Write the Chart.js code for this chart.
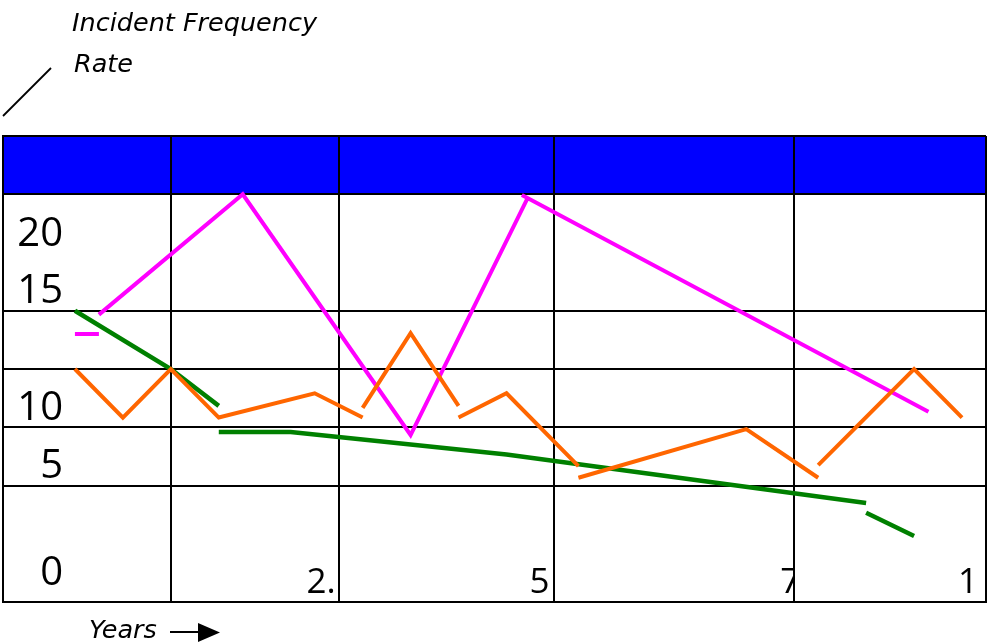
<!DOCTYPE html>
<html>
<head>
<meta charset="utf-8">
<script src="https://cdn.jsdelivr.net/npm/chart.js@4/dist/chart.umd.min.js"></script>
<style>
  html, body { margin: 0; padding: 0; background: #fff; }
</style>
</head>
<body>
<canvas id="chart" width="987" height="644"></canvas>
<script>
// Years on x, incident frequency rate on y. A null y breaks the line.
const orangeX = [0, 0.5, 1, 1.5, 2.5, 3, 3, 3, 3.5, 4, 4, 4, 4.5, 5.25, 5.25, 5.25, 7, 7.75, 7.75, 7.75, 8.75, 9.25];
const orangeY = [12, 9.5, 12, 9.5, 10.75, 9.5, null, 10, 13.85, 10.1, null, 9.5, 10.75, 7, null, 6.4, 8.9, 6.4, null, 7.05, 12, 9.5];

const greenX = [0, 1, 1.5, 1.5, 1.5, 2.25, 4.5, 8.25, 8.25, 8.25, 8.75];
const greenY = [15, 12, 10.1, null, 8.75, 8.75, 7.6, 5.1, null, 4.6, 3.4];

const magentaX = [0, 0.25, 0.25, 0.25, 1.75, 3.5, 4.72, 4.7, 4.66, 8.9];
const magentaY = [13.8, 13.8, null, 14.8, 21, 8.6, 20.8, null, 20.96, 9.8];

// grid lines of the frame
const xGridYears = [-0.75, 1, 2.75, 5, 7.5, 9.5];
const yGridRates = [0, 6, 9, 12, 15, 21, 24];

// texts
const titleLines = ['Incident Frequency', 'Rate'];
const yTickLabels = ['20', '15', '10', '5', '0'];
const xTickLabels = ['2.', '5', '7', '1'];
const xAxisTitle = 'Years';

const FONT = '"Open Sans", "Noto Sans", sans-serif';
const ITALIC_FONT = '"DejaVu Sans", sans-serif';

function toPoints(xs, ys) {
    return xs.map((x, i) => ({ x: x, y: ys[i] }));
}

// Blue header band, labels, title, arrow
const frameDecor = {
    id: 'frameDecor',
    beforeDraw(chart) {
        const { ctx, chartArea, scales } = chart;
        const top = scales.y.getPixelForValue(24);
        const bottom = scales.y.getPixelForValue(21);
        ctx.save();
        ctx.fillStyle = '#0000ff';
        ctx.fillRect(chartArea.left, top, chartArea.right - chartArea.left, bottom - top);
        ctx.restore();
    },
    afterDraw(chart) {
        const { ctx, scales } = chart;
        ctx.save();
        ctx.fillStyle = '#000';
        ctx.textBaseline = 'alphabetic';

        // y labels, placed inside the first column
        const yBaselines = [246, 303, 420, 478, 585];
        ctx.font = '40px ' + FONT;
        ctx.textAlign = 'right';
        yTickLabels.forEach((t, i) => ctx.fillText(t, 63, yBaselines[i]));

        // x labels, right aligned against the grid lines and clipped by them
        ctx.font = '35px ' + FONT;
        const xLines = [2.75, 5, 7.5, 9.5];
        const xShift = [-3, -5, 6, -8];
        xTickLabels.forEach((t, i) => {
            const gx = scales.x.getPixelForValue(xLines[i]);
            ctx.save();
            ctx.beginPath();
            ctx.rect(0, 0, gx - 1, 644);
            ctx.clip();
            ctx.fillText(t, gx + xShift[i], 593);
            ctx.restore();
        });

        // title
        ctx.textAlign = 'left';
        ctx.font = 'oblique 25.5px ' + ITALIC_FONT;
        ctx.fillText(titleLines[0], 72, 31);
        ctx.fillText(titleLines[1], 74, 72);

        // diagonal stroke near the title
        ctx.strokeStyle = '#000';
        ctx.lineWidth = 1.8;
        ctx.beginPath();
        ctx.moveTo(3, 116);
        ctx.lineTo(51, 68);
        ctx.stroke();

        // x axis title with arrow
        ctx.font = 'oblique 25.5px ' + ITALIC_FONT;
        ctx.fillText(xAxisTitle, 89, 638);
        ctx.lineWidth = 2;
        ctx.beginPath();
        ctx.moveTo(170, 632);
        ctx.lineTo(200, 632);
        ctx.stroke();
        ctx.beginPath();
        ctx.moveTo(198, 623);
        ctx.lineTo(220, 632.5);
        ctx.lineTo(198, 642);
        ctx.closePath();
        ctx.fill();
        ctx.restore();
    }
};

const lineStyle = {
    pointRadius: 0,
    tension: 0,
    spanGaps: false,
    borderJoinStyle: 'miter',
    borderCapStyle: 'butt',
    fill: false
};

new Chart(document.getElementById('chart'), {
    type: 'line',
    data: {
        datasets: [
            Object.assign({ label: 'Orange', data: toPoints(orangeX, orangeY), borderColor: '#ff6600', borderWidth: 4 }, lineStyle),
            Object.assign({ label: 'Green', data: toPoints(greenX, greenY), borderColor: '#008000', borderWidth: 4.5 }, lineStyle),
            Object.assign({ label: 'Magenta', data: toPoints(magentaX, magentaY), borderColor: '#ff00ff', borderWidth: 4 }, lineStyle)
        ]
    },
    options: {
        responsive: false,
        animation: false,
        devicePixelRatio: 1,
        layout: { padding: { left: 3, right: 1, top: 136, bottom: 42 } },
        plugins: {
            legend: { display: false },
            tooltip: { enabled: false }
        },
        scales: {
            x: {
                type: 'linear',
                min: -0.75,
                max: 9.5,
                afterBuildTicks: (axis) => { axis.ticks = xGridYears.map(v => ({ value: v })); },
                ticks: { display: false },
                grid: { color: '#000', lineWidth: 2, drawTicks: false },
                border: { display: true, color: '#000', width: 2 }
            },
            y: {
                type: 'linear',
                min: 0,
                max: 24,
                afterBuildTicks: (axis) => { axis.ticks = yGridRates.map(v => ({ value: v })); },
                ticks: { display: false },
                grid: { color: '#000', lineWidth: 2, drawTicks: false },
                border: { display: true, color: '#000', width: 2 }
            }
        }
    },
    plugins: [frameDecor]
});
</script>
</body>
</html>
